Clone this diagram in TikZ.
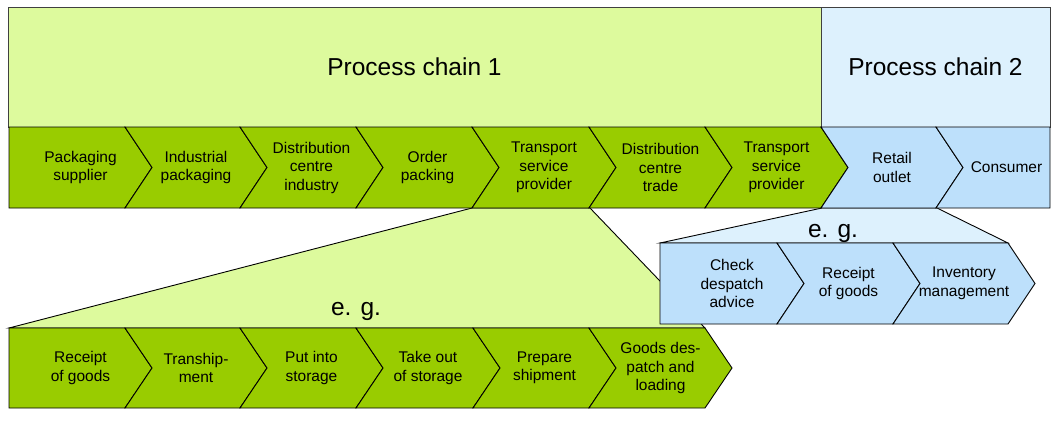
\documentclass[tikz,border=0pt]{standalone}
\usepackage{fontspec}
\setmainfont{Liberation Sans}
\definecolor{dgreen}{HTML}{99CC00}
\definecolor{lgreen}{HTML}{DDFA9D}
\definecolor{lblue}{HTML}{DDF1FD}
\definecolor{mblue}{HTML}{BDE0FB}
\tikzset{
  chev/.style={draw=black, line width=0.9pt, line join=miter},
  lbl/.style={align=center, inner sep=0pt, font=\fontsize{15.5}{18.5}\selectfont},
  big/.style={inner sep=0pt, font=\fontsize{24.5}{28}\selectfont},
  frame/.style={draw=black!75, line width=1pt},
}
% name, x0, x1, ytop, ybot, fill, text
\newcommand\chevfirst[7]{%
  \draw[chev,fill=#6] (#2,#4) -- (#3,#4) -- ({#3+27},{(#4+#5)/2}) -- (#3,#5) -- (#2,#5) -- cycle;
  \node[lbl] (#1) at ({(#2+#3+27)/2},{(#4+#5)/2}) {#7};}
\newcommand\chevmid[7]{%
  \draw[chev,fill=#6] (#2,#4) -- (#3,#4) -- ({#3+27},{(#4+#5)/2}) -- (#3,#5) -- (#2,#5) -- ({#2+27},{(#4+#5)/2}) -- cycle;
  \node[lbl] (#1) at ({(#2+#3+27)/2},{(#4+#5)/2}) {#7};}
\newcommand\chevlast[7]{%
  \draw[chev,fill=#6] (#2,#4) -- (#3,#4) -- (#3,#5) -- (#2,#5) -- ({#2+27},{(#4+#5)/2}) -- cycle;
  \node[lbl] (#1) at ({(#2+#3+27)/2},{(#4+#5)/2}) {#7};}
\begin{document}
\begin{tikzpicture}[x=1pt,y=-1pt]
\useasboundingbox (0,0) rectangle (1053,424);
% top boxes
\draw[frame,fill=lgreen] (8,7) rectangle (821,127);
\draw[frame,fill=lblue] (821,7) rectangle (1050,127);
\node[big] (pc1) at (414.5,67) {Process chain 1};
\node[big] (pc2) at (935.5,67) {Process chain 2};
% zoom trapezoids
\draw[chev,fill=lgreen] (472,208) -- (590,208) -- (705,328) -- (9,328) -- cycle;
\draw[chev,fill=lblue] (822,208) -- (937,208) -- (1008,243) -- (660,243) -- cycle;
\node[big,anchor=base] (eg1) at (356,315) {e. g.};
\node[big,anchor=base] (eg2) at (833,237) {e. g.};
% top chevron row
\chevfirst{t1}{9}{125}{127}{208}{dgreen}{Packaging\\supplier}
\chevmid{t2}{125}{240}{127}{208}{dgreen}{Industrial\\packaging}
\chevmid{t3}{240}{356}{127}{208}{dgreen}{Distribution\\centre\\industry}
\chevmid{t4}{356}{472}{127}{208}{dgreen}{Order\\packing}
\chevmid{t5}{472}{589}{127}{208}{dgreen}{Transport\\service\\provider}
\chevmid{t6}{589}{705}{127}{208}{dgreen}{Distribution\\centre\\trade}
\chevmid{t7}{705}{821}{127}{208}{dgreen}{Transport\\service\\provider}
\chevmid{t8}{821}{936}{127}{208}{mblue}{Retail\\outlet}
\chevlast{t9}{936}{1050}{127}{208}{mblue}{Consumer}
% blue chevron row
\chevfirst{b1}{660}{777}{243}{324}{mblue}{Check\\despatch\\advice}
\chevmid{b2}{777}{893}{243}{324}{mblue}{Receipt\\of goods}
\chevmid{b3}{893}{1008}{243}{324}{mblue}{Inventory\\management}
% lower green chevron row
\chevfirst{g1}{9}{125}{328}{408}{dgreen}{Receipt\\of goods}
\chevmid{g2}{125}{240}{328}{408}{dgreen}{Tranship-\\ment}
\chevmid{g3}{240}{356}{328}{408}{dgreen}{Put into\\storage}
\chevmid{g4}{356}{473}{328}{408}{dgreen}{Take out\\of storage}
\chevmid{g5}{473}{589}{328}{408}{dgreen}{Prepare\\shipment}
\chevmid{g6}{589}{705}{328}{408}{dgreen}{Goods des-\\patch and\\loading}
\end{tikzpicture}
\end{document}
